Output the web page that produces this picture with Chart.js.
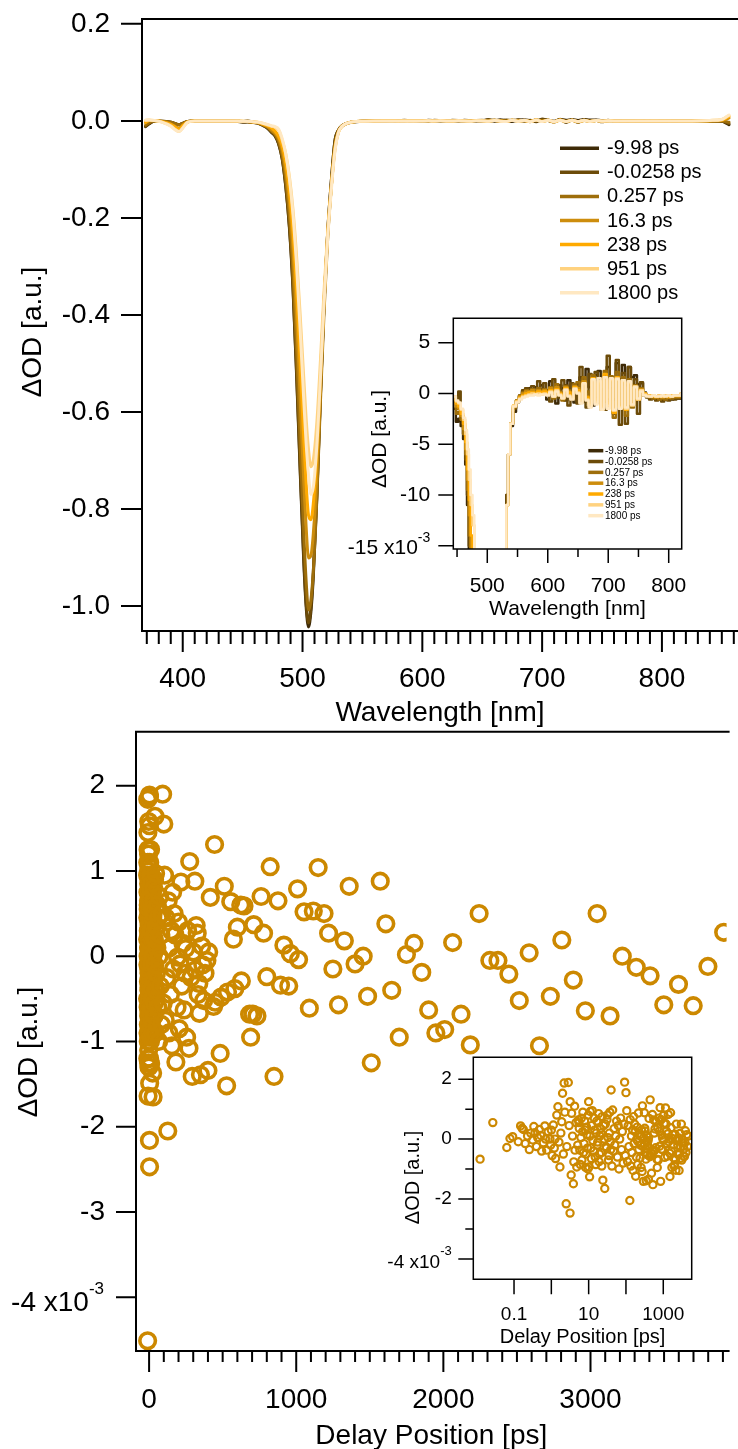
<!DOCTYPE html>
<html>
<head>
<meta charset="utf-8">
<script src="https://cdn.jsdelivr.net/npm/chart.js@4.4.1/dist/chart.umd.min.js"></script>
<style>
  html, body { margin: 0; padding: 0; background: #fff; overflow: hidden; }
  #wrap { position: relative; width: 738px; height: 1449px; }
  canvas { position: absolute; }
</style>
</head>
<body>
<div id="wrap">
  <canvas id="cA" width="738" height="728" style="left:0px;top:0px;"></canvas>
  <canvas id="cB" width="360" height="325" style="left:330px;top:300px;"></canvas>
  <canvas id="cC" width="738" height="749" style="left:0px;top:700px;"></canvas>
  <canvas id="cD" width="330" height="305" style="left:370px;top:1045px;"></canvas>
</div>
<script>
// ---------------- DATA ----------------
// Spectra: wavelength grid (nm) and dOD (in units of 1e-3)
const wavelengths = [
  369, 372, 376, 382, 390, 394, 397, 400, 404, 410, 425, 440,
  446, 450, 454, 458, 462, 465, 468, 471, 474,
  477, 480, 483, 486, 489, 492, 495, 498, 501, 503, 505, 507, 509, 512, 515, 518, 521, 524, 527, 530, 533, 536, 540,
  545, 550, 555, 560, 565, 570, 575, 580, 585, 590, 595,
  600, 605, 610, 615, 620, 625, 630, 635, 640, 645, 650, 655, 660, 665, 670, 675, 680, 685, 690, 695, 700, 705, 710, 715, 720, 725, 730, 735, 740, 745, 750, 755, 760,
  765, 770, 775, 780, 785, 790, 795, 800, 805, 810, 815,
  825, 840, 850, 854, 856
];
const seriesLabels = ['-9.98 ps', '-0.0258 ps', '0.257 ps', '16.3 ps', '238 ps', '951 ps', '1800 ps'];
const seriesColors = ['#3e2a07', '#6c4b09', '#9e6e0b', '#cd8d0d', '#ffaa00', '#ffd27f', '#ffe8c2'];

const spec_m9_98 = [
  -12, -6, -1, -1, -3, -6, -8, -5, -1, 0, 0, -0.5,
  -1.5, -2.8, -2.5, -3.2, -4.5, -7, -11, -16, -24,
  -31, -47, -78, -136, -219, -344, -522, -720, -907, -1001, -1043, -1012, -939, -772, -563, -375, -229, -125, -42, -19, -10, -6, -3.2,
  -1.8, -0.9, -0.3, 0.2, 0.4, 0.5, 0.3, 0.6, 0.4, 0.8, 0.3,
  -0.6, 1.2, 0.2, -1.0, 0.8, 0.5, -0.7, 1.3, 0.2, -0.9, 0.9, 1.6, -0.8, 2.4, 0.6, -1.2, 1.8, 2.2, 0.4, -0.8, 2.6, 1.2, -0.6, 3.0, 1.4, 2.8, 0.8, 2.6, 1.6, 1.8, 0.9, 1.0, 0.1,
  -0.3, -0.5, -0.4, -0.6, -0.5, -0.7, -0.6, -0.5, -0.6, -0.4, -0.5,
  -0.5, -0.5, -1, -5, -8
];
const spec_m0_0258 = [
  -11, -5, -1, -1, -3, -6, -8, -5, -1, 0, 0, -0.5,
  -0.5, -1.5, 0.2, -2.5, -4, -6.5, -10, -15, -22,
  -30, -46, -77, -134, -216, -340, -516, -713, -899, -993, -1035, -1004, -931, -766, -559, -373, -228, -124, -42, -19, -10, -6, -3,
  -1.5, -0.7, -0.2, 0.3, 0.5, 0.4, 0.7, 0.2, 1.2, 0.4, 1.0,
  0.3, -0.8, 1.4, 0.6, -0.4, 1.3, 0.8, -1.2, 1.0, 0.4, -1.0, 2.6, 0.7, -1.4, 1.9, 0.9, 2.1, -0.9, 1.5, -1.6, 3.7, 0.5, -2.0, 3.3, -3.1, 2.0, -3.0, 2.6, -1.2, 1.4, -2.0, 1.1, -0.2,
  -0.4, -0.6, -0.5, -0.7, -0.6, -0.8, -0.6, -0.7, -0.5, -0.6, -0.5,
  -0.3, -0.5, -0.8, -4, -6
];
const spec_0_257 = [
  -9, -4, -1, -1, -3, -6, -8, -5, -1, 0, 0, -0.5,
  -0.8, -2, -1.8, -2.6, -4, -6, -9.5, -14, -21,
  -28, -42, -71, -121, -197, -312, -474, -665, -847, -948, -1008, -988, -927, -776, -575, -393, -242, -136, -50, -20, -11, -6, -3,
  -1.4, -0.7, -0.2, 0.1, 0.3, 0.2, 0.4, 0.1, 0.5, 0.2, 0.4,
  0.1, 0.6, -0.5, 0.9, 0.2, -0.7, 0.7, 0.3, -0.6, 0.9, 1.1, -0.9, 1.6, 0.2, -1.3, 1.8, -0.4, 1.2, -1.6, 2.2, -0.6, 1.7, -2.4, 2.1, -1.2, 1.6, -2.2, 1.4, -1.4, 0.8, -0.6, 0.5, 0,
  -0.3, -0.4, -0.5, -0.4, -0.6, -0.5, -0.6, -0.4, -0.5, -0.4, -0.4,
  -0.3, -0.5, -0.5, -2, -3
];
const spec_16_3 = [
  -4, 1, 1, -1, -6, -12, -15, -9, -2, 0, 0, -0.5,
  -0.6, -1.3, -1.5, -2.2, -3.5, -5.5, -8.5, -12, -18,
  -25, -36, -60, -103, -168, -264, -405, -573, -742, -837, -901, -896, -851, -728, -546, -373, -237, -137, -55, -22, -11, -6, -3,
  -1.3, -0.7, -0.3, 0, 0.2, 0.2, 0.3, 0.1, 0.3, 0.2, 0.3,
  0, 0.5, -0.3, 0.6, 0.1, -0.5, 0.6, 0.2, -0.4, 0.7, 0.5, -0.7, 1.2, -0.3, -1.0, 1.4, -0.2, 0.9, -1.2, 1.7, -0.8, 1.2, -1.8, 1.5, -1.0, 1.2, -1.5, 1.0, -1.0, 0.6, -0.5, 0.4, 0,
  -0.2, -0.3, -0.3, -0.4, -0.3, -0.4, -0.3, -0.4, -0.3, -0.3, -0.3,
  0, 0, 1, 4, 6
];
const spec_238 = [
  -3, 1, 1, -1, -7, -13, -17, -10, -2, 0, 0, -0.5,
  -0.5, -1, -1.3, -2, -3, -4.8, -7.5, -10.5, -14,
  -21, -32, -51, -87, -145, -228, -349, -498, -656, -747, -813, -822, -789, -681, -523, -365, -232, -137, -58, -23, -11, -6, -3,
  -1.2, -0.8, -0.4, -0.2, 0, 0.1, 0.1, 0, 0.2, 0.1, 0.2,
  0.1, 0.3, -0.2, 0.4, 0, -0.4, 0.5, 0.1, -0.5, 0.6, 0.3, -0.8, 1.0, -0.4, -1.1, 1.5, -0.6, 1.0, -1.4, 1.9, -1.0, 1.3, -1.9, 1.6, -1.3, 1.2, -1.6, 1.0, -1.1, 0.6, -0.6, 0.3, 0,
  -0.2, -0.2, -0.3, -0.3, -0.2, -0.3, -0.2, -0.3, -0.2, -0.2, -0.2,
  0, 0.5, 2, 6, 9
];
const spec_951 = [
  1, 2, 1, -2, -10, -18, -22, -14, -3, 0, 0, -0.5,
  -0.3, -0.8, -1, -1.6, -2.6, -4, -6, -8.5, -11,
  -13, -19, -40, -68, -114, -182, -278, -399, -528, -613, -677, -713, -699, -620, -492, -349, -228, -135, -61, -23, -11, -6, -3,
  -1.2, -0.8, -0.5, -0.3, -0.2, -0.1, 0, -0.1, 0, -0.1, 0,
  -0.1, 0.2, -0.3, 0.3, -0.1, -0.4, 0.4, -0.2, -0.5, 0.5, 0.1, -0.9, 0.9, -0.6, -1.2, 1.3, -0.9, 1.2, -1.5, 1.6, -1.3, 1.4, -1.7, 1.5, -1.4, 1.3, -1.5, 1.1, -1.2, 0.7, -0.6, 0.3, -0.1,
  -0.2, -0.3, -0.2, -0.3, -0.2, -0.3, -0.2, -0.2, -0.3, -0.2, -0.2,
  0, 1, 3, 8, 11
];
const spec_1800 = [
  2, 2, 1, -2, -11, -19, -22, -15, -3, 0, 0, -0.5,
  -0.3, -0.7, -0.9, -1.5, -2.4, -3.6, -5.5, -7.5, -10,
  -12, -17, -36, -68, -118, -192, -297, -430, -574, -664, -730, -770, -755, -668, -528, -374, -243, -144, -64, -24, -11, -6, -3,
  -1.3, -0.9, -0.6, -0.4, -0.3, -0.2, -0.2, -0.1, -0.2, -0.1, -0.1,
  -0.2, 0.1, -0.3, 0.2, -0.2, -0.5, 0.3, -0.3, -0.6, 0.4, 0, -1.0, 1.0, -0.7, -1.4, 1.4, -1.1, 1.5, -1.6, 1.6, -1.5, 1.5, -1.6, 1.4, -1.5, 1.3, -1.4, 1.2, -1.1, 0.6, -0.5, 0.2, -0.2,
  -0.3, -0.3, -0.2, -0.3, -0.3, -0.2, -0.3, -0.2, -0.3, -0.2, -0.2,
  0, 1, 3, 9, 12
];
const spectra = [spec_m9_98, spec_m0_0258, spec_0_257, spec_16_3, spec_238, spec_951, spec_1800];

// Kinetic trace: delay (ps) and dOD (1e-3)
const delays = [
  -10, -9, -8, -7, -6, -5, -4, -3, -2.5, -2, -1.5, -1, -0.6, -0.3, -0.15,
  -9.8, -9.5, -9.2, -8.8, -8.5, -8.2, -7.8, -7.5, -7.2, -6.8, -6.5, -6.2, -5.8, -5.5, -5.2, -4.8, -4.5, -4.2, -3.8, -3.5, -3.2, -2.8, -2.2, -1.8, -1.2, -0.8, -0.45,
  0.0123, 0.027, 0.064, 0.078, 0.092, 0.13, 0.15, 0.165, 0.178, 0.2, 0.23, 0.257, 0.28, 0.316, 0.34, 0.365, 0.4, 0.43, 0.476, 0.52, 0.55, 0.61, 0.67, 0.7, 0.75, 0.82, 0.92, 0.96,
  1.0, 1.05, 1.13, 1.2, 1.25, 1.3, 1.4, 1.5, 1.6, 1.7, 1.8, 1.9, 2.0, 2.1, 2.2, 2.3, 2.5, 2.6, 2.85, 3.0, 3.17, 3.2, 3.4, 3.5, 3.7, 3.9, 4.0, 4.2, 4.3, 4.6, 4.8,
  5.3, 5.6, 5.8, 6.2, 6.6, 7.0, 7.5, 8.0, 8.5, 9.0, 9.5, 10, 10.2, 10.6, 11, 11.5, 12, 13, 14, 15, 16, 17, 18, 19, 20, 21, 22, 23, 24,
  5.1, 5.5, 6.0, 6.4, 6.9, 7.3, 7.8, 8.3, 8.8, 9.3, 9.8, 10.8, 11.8, 12.5, 13.5, 14.5, 15.5, 16.5, 17.5, 18.5, 19.5, 21.5, 22.5, 25, 29, 31, 33, 35, 37, 39,
  26, 27, 28, 30, 32, 34, 36, 38, 40, 42, 44, 46, 48, 50, 53, 56, 59, 62, 65, 68, 72, 76, 80, 84, 88, 92, 96, 100,
  105, 110, 115, 120, 127, 130, 135, 140, 145, 150, 155, 160, 165, 170, 176, 182, 190, 193, 200, 205, 211, 216, 222, 230, 238, 245, 249, 255, 262, 271, 276, 285, 293, 300,
  311, 316, 320, 327, 333, 338, 342, 349, 358, 365, 371, 380, 393, 400, 405, 416, 438, 445, 449, 483, 489, 511, 527, 533, 555, 573, 583, 600, 623, 627, 645, 683, 690, 705, 711, 733, 761, 778, 800, 823, 849, 876, 893, 916, 949, 960,
  1009, 1016, 1053, 1089, 1116, 1149, 1189, 1220, 1249, 1287, 1327, 1360, 1400, 1455, 1485, 1510, 1571, 1609, 1649, 1700, 1749, 1800, 1853, 1900, 1949, 2009, 2063, 2120, 2183, 2243,
  2316, 2371, 2445, 2516, 2583, 2653, 2727, 2805, 2883, 2965, 3045, 3133, 3216, 3311, 3405, 3498, 3598, 3698, 3798, 3905, 4050, 4250, 4450, 4650
];
const signal = [
  -4.51, 1.84, 1.45, -1.64, 0.6, -0.8, 1.2, -1.1, 1.58, 0.3, -1.3, -0.4, 0.9, -0.2, 0.5,
  0.95, -0.5, 0.2, 1.1, -1.2, 0.45, -0.1, 0.75, -0.9, 1.25, 0.0, -0.6, 0.55, -1.0, 0.3, 1.0, -0.3, 0.65, -1.25, 0.1, 0.85, -0.7, 0.4, -0.15, 1.05, -0.95, 0.25,
  -0.67, 0.55, -0.28, 0.02, 0.08, -0.09, 0.44, 0.36, 0.32, -0.15, 0.1, -0.35, 0.2, -0.03, 0.42, 0.21, -0.25, 0.05, 0.32, 0.12, -0.4, -0.12, 0.44, 0.0, -0.37, 0.25, 0.0, -0.2,
  0.3, -0.55, 0.47, -0.3, 0.0, -0.65, 0.8, 1.08, -0.1, -0.93, 0.2, 0.58, 1.53, -0.5, 1.87, 0.9, -2.16, -0.25, 1.89, 0.45, -2.47, 1.25, -1.2, 0.86, 0.1, -1.49, -0.76, 1.1, -0.37, 0.55, -0.93,
  0.64, 0.36, -0.37, 0.05, -0.7, 0.9, -0.15, 0.3, -0.5, 0.15, -1.0, 1.25, -0.93, -1.26, 0.92, -0.3, 0.45, -0.05, 0.7, -0.6, 0.2, -0.2, 0.55, -0.75, 0.1, 0.35, -0.45, 0.75, -1.37,
  -0.2, 0.55, -0.85, 0.7, 0.25, -0.45, 0.6, -0.95, 0.4, -0.3, 0.8, 0.1, -0.65, 0.95, -0.4, 0.3, -0.85, 0.6, -0.1, 0.85, -0.5, 0.2, -0.9, 0.45, -0.25, 0.65, 0.05, -0.55, 0.9, -0.35,
  0.0, -1.65, 0.5, -0.3, 0.8, -0.7, 0.2, -0.1, 1.64, -0.9, 0.97, -0.4, 0.35, -0.2, 0.1, 0.6, -0.6, 0.45, -1.0, 0.0, 0.7, -0.35, 0.25, -0.8, 0.5, 1.9, -0.55, 1.55,
  0.95, -0.75, 0.45, -0.25, -2.05, 0.65, -0.9, 0.1, -0.45, 0.3, -1.05, 0.75, -0.15, 0.5, 0.25, -1.24, -0.6, -0.01, 0.4, -0.85, -0.09, 0.87, -0.35, 0.15, -0.63, -0.2, 0.09, -0.95, 0.3, -1.08, 1.11, -0.25, -1.41, 0.05,
  0.88, -0.16, 0.36, 0.27, -0.45, -0.32, -0.67, -1.39, 0.12, -0.1, -0.52, -0.2, -0.05, -1.34, 0.05, 0.69, -0.59, 1.31, -0.54, -1.14, -0.48, 0.82, -1.52, -0.42, 0.64, 0.20, -0.38, 0.34, 0.60, -0.29, 0.59, -0.68, -0.95, -0.68, 0.37, -0.70, 0.70, 0.27, -0.24, 1.05, -1.41, 0.65, -0.34, 0.13, -0.35, 0.03,
  0.79, -0.04, 0.52, -0.61, 0.53, 1.04, 0.50, 0.27, -0.15, -0.57, 0.18, 0.82, -0.09, 0.0, -0.47, -1.25, 0.88, 0.38, -0.40, -0.95, 0.02, 0.15, -0.19, -0.63, -0.90, -0.86, 0.16, -0.68, -1.04, 0.50,
  -0.05, -0.05, -0.21, -0.52, 0.04, -1.05, -0.47, 0.19, -0.28, -0.64, 0.50, -0.70, 0.00, -0.13, -0.23, -0.57, -0.33, -0.58, -0.12, 0.28, -0.45, 0.15, -0.25, 0.1
];
const traceColor = '#cc8800';

// Tick labels (ascending)
const specXTicks = [400, 500, 600, 700, 800];
const specYTicks = [-1000, -800, -600, -400, -200, 0, 200];
const insetSpecXTicks = [500, 600, 700, 800];
const insetSpecYTicks = [-15, -10, -5, 0, 5];
const traceXTicks = [0, 1000, 2000, 3000];
const traceYTicks = [-4, -3, -2, -1, 0, 1, 2];
const insetTraceXTicks = [0.1, 10, 1000];
const insetTraceYTicks = [-4, -2, 0, 2];

// ---------------- RENDERING ----------------
const FAM = '"Liberation Sans", Arial, Helvetica, sans-serif';
Chart.defaults.font.family = FAM;
Chart.defaults.color = '#000';

function range(a, b, s) { const r = []; for (let v = a; v <= b + 1e-9; v += s) r.push(+v.toFixed(6)); return r; }

const igor = {
  id: 'igor',
  beforeDatasetsDraw(chart, args, o) {
    if (!o.fillArea) return;
    const {ctx, chartArea: a} = chart;
    ctx.save(); ctx.fillStyle = '#fff';
    ctx.fillRect(a.left, a.top, a.right - a.left, a.bottom - a.top);
    ctx.restore();
  },
  afterDraw(chart, args, o) {
    const {ctx, chartArea: a, scales} = chart;
    const xs = scales.x, ys = scales.y;
    ctx.save();
    ctx.strokeStyle = '#000';
    ctx.lineWidth = o.lw;
    ctx.lineCap = 'square';
    ctx.beginPath();
    if (o.box) {
      ctx.rect(a.left, a.top, a.right - a.left, a.bottom - a.top);
    } else {
      ctx.moveTo(a.right + 2, a.top); ctx.lineTo(a.left, a.top);
      ctx.lineTo(a.left, a.bottom); ctx.lineTo(a.right + 2, a.bottom);
    }
    ctx.stroke();
    ctx.lineCap = 'butt';
    ctx.beginPath();
    const xt = (list, len) => list.forEach(v => { const p = xs.getPixelForValue(v); ctx.moveTo(p, a.bottom); ctx.lineTo(p, a.bottom + len); });
    const yt = (list, len) => list.forEach(v => { const p = ys.getPixelForValue(v); ctx.moveTo(a.left, p); ctx.lineTo(a.left - len, p); });
    xt(o.xMajor, o.xMajLen); xt(o.xMinor || [], o.xMinLen || 0);
    yt(o.yMajor, o.yMajLen); yt(o.yMinor || [], o.yMinLen || 0);
    ctx.stroke();
    ctx.fillStyle = '#000';
    if (o.yTitle) {
      const t = o.yTitle;
      ctx.save();
      ctx.translate(t.x, t.y); ctx.rotate(-Math.PI / 2);
      ctx.font = t.size + 'px ' + FAM; ctx.textAlign = 'center'; ctx.textBaseline = 'middle';
      ctx.fillText(t.text, 0, 0);
      ctx.restore();
    }
    if (o.exp) {
      const e = o.exp;
      const py = ys.getPixelForValue(e.value) + e.dy;
      const right = a.left - e.gap;
      ctx.textBaseline = 'middle';
      ctx.font = e.supSize + 'px ' + FAM;
      const sw = ctx.measureText(e.sup).width;
      ctx.textAlign = 'left';
      ctx.fillText(e.sup, right - sw, py - e.supDy);
      ctx.font = e.size + 'px ' + FAM;
      ctx.textAlign = 'right';
      ctx.fillText(e.base, right - sw, py);
    }
    if (o.legend) {
      const L = o.legend;
      chart.data.datasets.forEach((d, i) => {
        const y = L.y + i * L.dy;
        ctx.strokeStyle = d.borderColor; ctx.lineWidth = L.lw;
        ctx.beginPath(); ctx.moveTo(L.x0, y); ctx.lineTo(L.x1, y); ctx.stroke();
        ctx.fillStyle = '#000'; ctx.font = L.size + 'px ' + FAM;
        ctx.textAlign = 'left'; ctx.textBaseline = 'middle';
        ctx.fillText(d.label, L.tx, y + 0.5);
      });
    }
    ctx.restore();
  }
};
Chart.register(igor);

function setTicks(list) { return s => { s.ticks = list.map(v => ({value: v})); }; }
function baseOpts() {
  return { responsive: false, animation: false, events: [], devicePixelRatio: 1,
    plugins: { legend: {display: false}, tooltip: {enabled: false} } };
}
// label offset is produced through an invisible tick length (no extra layout padding)
function gridOff(gap) { return {display: false, drawOnChartArea: false, drawTicks: true, tickLength: gap}; }

function specDatasets(lw, stepped, interp) {
  return spectra.map((s, i) => ({
    label: seriesLabels[i],
    data: wavelengths.map((w, j) => ({x: w, y: s[j]})),
    borderColor: seriesColors[i], backgroundColor: seriesColors[i],
    borderWidth: lw, pointRadius: 0, fill: false, order: 6 - i,
    stepped: stepped, cubicInterpolationMode: interp,
    borderJoinStyle: 'round', borderCapStyle: 'round'
  }));
}

// ---- Chart A: main spectra ----
{
  const o = baseOpts();
  o.layout = {padding: {top: 19, left: 0, right: 0, bottom: 0}};
  o.plugins.igor = { lw: 2, box: false,
    xMajor: specXTicks, xMajLen: 21, xMinor: range(370, 860, 10).filter(v => v % 100 !== 0), xMinLen: 13,
    yMajor: specYTicks, yMajLen: 21,
    yTitle: {text: 'ΔOD [a.u.]', x: 33, y: 332, size: 28},
    legend: {x0: 560, x1: 599, tx: 607, y: 148.3, dy: 24.07, lw: 3.5, size: 20} };
  o.scales = {
    x: { type: 'linear', min: 366, max: 863.5, grid: gridOff(34), border: {display: false},
      afterBuildTicks: setTicks(specXTicks), afterFit: s => { s.height = 97; },
      ticks: {font: {size: 28, lineHeight: 1}, color: '#000', padding: 0, maxRotation: 0, autoSkip: false, callback: v => String(v)},
      title: {display: true, text: 'Wavelength [nm]', color: '#000', font: {size: 28, lineHeight: 1}, padding: {top: 0, bottom: 1}} },
    y: { type: 'linear', min: -1051.5, max: 210, grid: gridOff(32), border: {display: false},
      afterBuildTicks: setTicks(specYTicks), afterFit: s => { s.width = 142; },
      ticks: {font: {size: 28, lineHeight: 1}, color: '#000', padding: 0, autoSkip: false, callback: v => (v / 1000).toFixed(1)},
      title: {display: false} }
  };
  new Chart(document.getElementById('cA'), { type: 'line', data: {datasets: specDatasets(3, false, 'monotone')}, options: o });
}

// ---- Chart B: inset spectra ----
{
  const o = baseOpts();
  o.layout = {padding: {top: 18.3, left: 0, right: 8.3, bottom: 0}};
  o.plugins.igor = { lw: 1.5, box: true, fillArea: true,
    xMajor: insetSpecXTicks, xMajLen: 14, xMinor: [450, 550, 650, 750], xMinLen: 8,
    yMajor: insetSpecYTicks, yMajLen: 15,
    yTitle: {text: 'ΔOD [a.u.]', x: 50, y: 139, size: 21},
    exp: {value: -15, base: '-15 x10', sup: '-3', size: 21, supSize: 14, gap: 23, dy: 2.6, supDy: 10},
    legend: {x0: 258.3, x1: 273.3, tx: 275, y: 150.7, dy: 10.83, lw: 3.5, size: 10} };
  o.scales = {
    x: { type: 'linear', min: 443.8, max: 821.5, grid: gridOff(27), border: {display: false},
      afterBuildTicks: setTicks(insetSpecXTicks), afterFit: s => { s.height = 76; },
      ticks: {font: {size: 21, lineHeight: 1}, color: '#000', padding: 0, maxRotation: 0, autoSkip: false, callback: v => String(v)},
      title: {display: true, text: 'Wavelength [nm]', color: '#000', font: {size: 21, lineHeight: 1}, padding: {top: 0, bottom: 5.5}} },
    y: { type: 'linear', min: -15.33, max: 7.4, grid: gridOff(23), border: {display: false},
      afterBuildTicks: setTicks(insetSpecYTicks), afterFit: s => { s.width = 123.3; },
      ticks: {font: {size: 21, lineHeight: 1}, color: '#000', padding: 0, autoSkip: false, callback: v => (v === -15 ? '' : String(v))},
      title: {display: false} }
  };
  new Chart(document.getElementById('cB'), { type: 'line', data: {datasets: specDatasets(2.5, 'middle', 'default')}, options: o });
}

// ---- Chart C: main kinetic trace ----
{
  const o = baseOpts();
  o.layout = {padding: {top: 31.7, left: 0, right: 0, bottom: 0}};
  o.plugins.igor = { lw: 2, box: false,
    xMajor: traceXTicks, xMajLen: 21, xMinor: range(0, 3900, 100).filter(v => v % 1000 !== 0), xMinLen: 11,
    yMajor: traceYTicks, yMajLen: 20,
    yTitle: {text: 'ΔOD [a.u.]', x: 29, y: 352, size: 28},
    exp: {value: -4, base: '-4 x10', sup: '-3', size: 28, supSize: 17, gap: 32, dy: 6, supDy: 14} };
  o.scales = {
    x: { type: 'linear', min: -89, max: 3925, grid: gridOff(35), border: {display: false},
      afterBuildTicks: setTicks(traceXTicks), afterFit: s => { s.height = 98; },
      ticks: {font: {size: 28, lineHeight: 1}, color: '#000', padding: 0, maxRotation: 0, autoSkip: false, callback: v => String(v)},
      title: {display: true, text: 'Delay Position [ps]', color: '#000', font: {size: 28, lineHeight: 1}, padding: {top: 0, bottom: -1.7}} },
    y: { type: 'linear', min: -4.63, max: 2.633, grid: gridOff(31), border: {display: false},
      afterBuildTicks: setTicks(traceYTicks), afterFit: s => { s.width = 136; },
      ticks: {font: {size: 28, lineHeight: 1}, color: '#000', padding: 0, autoSkip: false, callback: v => (v === -4 ? '' : String(v))},
      title: {display: false} }
  };
  new Chart(document.getElementById('cC'), { type: 'scatter', data: {datasets: [{
    label: 'trace', data: delays.map((d, i) => ({x: d, y: signal[i]})),
    pointStyle: 'circle', pointRadius: 7.8, pointBorderWidth: 3.6,
    pointBorderColor: traceColor, pointBackgroundColor: 'rgba(0,0,0,0)', showLine: false }]}, options: o });
}

// ---- Chart D: inset kinetic trace (log x) ----
{
  const o = baseOpts();
  o.layout = {padding: {top: 12.3, left: 0, right: 8.3, bottom: 0}};
  o.plugins.igor = { lw: 1.5, box: true, fillArea: true,
    xMajor: [0.1, 1, 10, 100, 1000], xMajLen: 15,
    yMajor: insetTraceYTicks, yMajLen: 15, yMinor: [1, -1, -3], yMinLen: 8,
    yTitle: {text: 'ΔOD [a.u.]', x: 43.3, y: 132.5, size: 20},
    exp: {value: -4, base: '-4 x10', sup: '-3', size: 19, supSize: 13, gap: 21.6, dy: 4.3, supDy: 11.7} };
  o.scales = {
    x: { type: 'logarithmic', min: 0.0081, max: 5780, grid: gridOff(26), border: {display: false},
      afterBuildTicks: setTicks(insetTraceXTicks), afterFit: s => { s.height = 70.7; },
      ticks: {font: {size: 19, lineHeight: 1}, color: '#000', padding: 0, maxRotation: 0, autoSkip: false, callback: v => String(v)},
      title: {display: true, text: 'Delay Position [ps]', color: '#000', font: {size: 20, lineHeight: 1}, padding: {top: 0, bottom: 3}} },
    y: { type: 'linear', min: -4.68, max: 2.73, grid: gridOff(21.6), border: {display: false},
      afterBuildTicks: setTicks(insetTraceYTicks), afterFit: s => { s.width = 103.3; },
      ticks: {font: {size: 19, lineHeight: 1}, color: '#000', padding: 0, autoSkip: false, callback: v => (v === -4 ? '' : String(v))},
      title: {display: false} }
  };
  const pts = [];
  delays.forEach((d, i) => { if (d > 0) pts.push({x: d, y: signal[i]}); });
  new Chart(document.getElementById('cD'), { type: 'scatter', data: {datasets: [{
    label: 'trace', data: pts,
    pointStyle: 'circle', pointRadius: 3.6, pointBorderWidth: 2.2,
    pointBorderColor: traceColor, pointBackgroundColor: 'rgba(0,0,0,0)', showLine: false }]}, options: o });
}
</script>
</body>
</html>
